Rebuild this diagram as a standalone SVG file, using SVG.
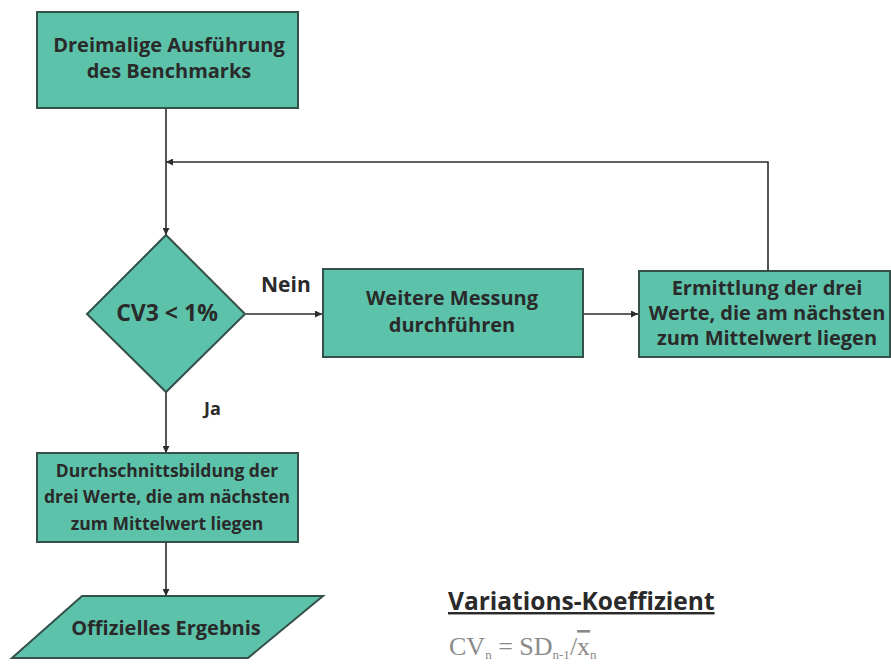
<svg xmlns="http://www.w3.org/2000/svg" width="891" height="667" viewBox="0 0 891 667">
<style>
.n{fill:#5cc3aa;stroke:#34504a;stroke-width:2}
.t{font-family:"Open Sans",Lato,"Liberation Sans",sans-serif;font-weight:bold;font-size:20px;fill:#2a2a2a;text-anchor:middle}
.l{font-family:"Open Sans",Lato,"Liberation Sans",sans-serif;font-weight:bold;font-size:18px;fill:#2a2a2a}
.c{fill:none;stroke:#2b2b2b;stroke-width:1.6}
</style>
<defs>
<marker id="a" viewBox="0 0 10 10" refX="10" refY="5" markerWidth="7" markerHeight="7" orient="auto" markerUnits="userSpaceOnUse">
<path d="M0,0L10,5L0,10z" fill="#2b2b2b"/>
</marker>
</defs>
<rect width="891" height="667" fill="#fff"/>
<g id="connectors">
<path class="c" d="M166,108V235" marker-end="url(#a)"/>
<path class="c" d="M768,270V162H166" marker-end="url(#a)"/>
<path class="c" d="M246,314H322" marker-end="url(#a)"/>
<path class="c" d="M584,314H638" marker-end="url(#a)"/>
<path class="c" d="M166,392V453" marker-end="url(#a)"/>
<path class="c" d="M166,542V596" marker-end="url(#a)"/>
<text class="l" x="261" y="292" style="font-size:21px">Nein</text>
<text class="l" x="204" y="415">Ja</text>
</g>
<g id="start">
<rect class="n" x="37" y="12" width="261" height="96"/>
<text class="t" x="169" y="52">Dreimalige Ausführung</text>
<text class="t" x="169" y="78">des Benchmarks</text>
</g>
<g id="decision">
<path class="n" d="M166,235L245,314L166,392L87,314z"/>
<text class="t" x="167" y="321" style="font-size:23px">CV3 &lt; 1%</text>
</g>
<g id="measure">
<rect class="n" x="323" y="269" width="260" height="88"/>
<text class="t" x="452" y="305">Weitere Messung</text>
<text class="t" x="452" y="332">durchführen</text>
</g>
<g id="determine">
<rect class="n" x="639" y="271" width="251" height="86"/>
<text class="t" x="767" y="295">Ermittlung der drei</text>
<text class="t" x="767" y="320">Werte, die am nächsten</text>
<text class="t" x="767" y="345">zum Mittelwert liegen</text>
</g>
<g id="average">
<rect class="n" x="37" y="453" width="261" height="89"/>
<text class="t" x="167" y="477" style="font-size:17.5px">Durchschnittsbildung der</text>
<text class="t" x="167" y="503" style="font-size:17.5px">drei Werte, die am nächsten</text>
<text class="t" x="167" y="530" style="font-size:17.5px">zum Mittelwert liegen</text>
</g>
<g id="result">
<path class="n" d="M82,596H323L248,658H12z"/>
<text class="t" x="166" y="635">Offizielles Ergebnis</text>
</g>
<g id="legend">
<text x="448" y="610" style="font-family:'Open Sans',Lato,'Liberation Sans',sans-serif;font-weight:bold;font-size:24.5px;fill:#2a2a2a;text-decoration:underline">Variations-Koeffizient</text>
<text x="449" y="655" style="font-family:'Liberation Serif',serif;font-size:26px;fill:#8a8a8a">CV<tspan font-size="13" dy="4">n</tspan><tspan dy="-4"> = SD</tspan><tspan font-size="13" dy="4">n-1</tspan><tspan dy="-4">/</tspan><tspan text-decoration="overline">x</tspan><tspan font-size="13" dy="4">n</tspan></text>
</g>
</svg>
